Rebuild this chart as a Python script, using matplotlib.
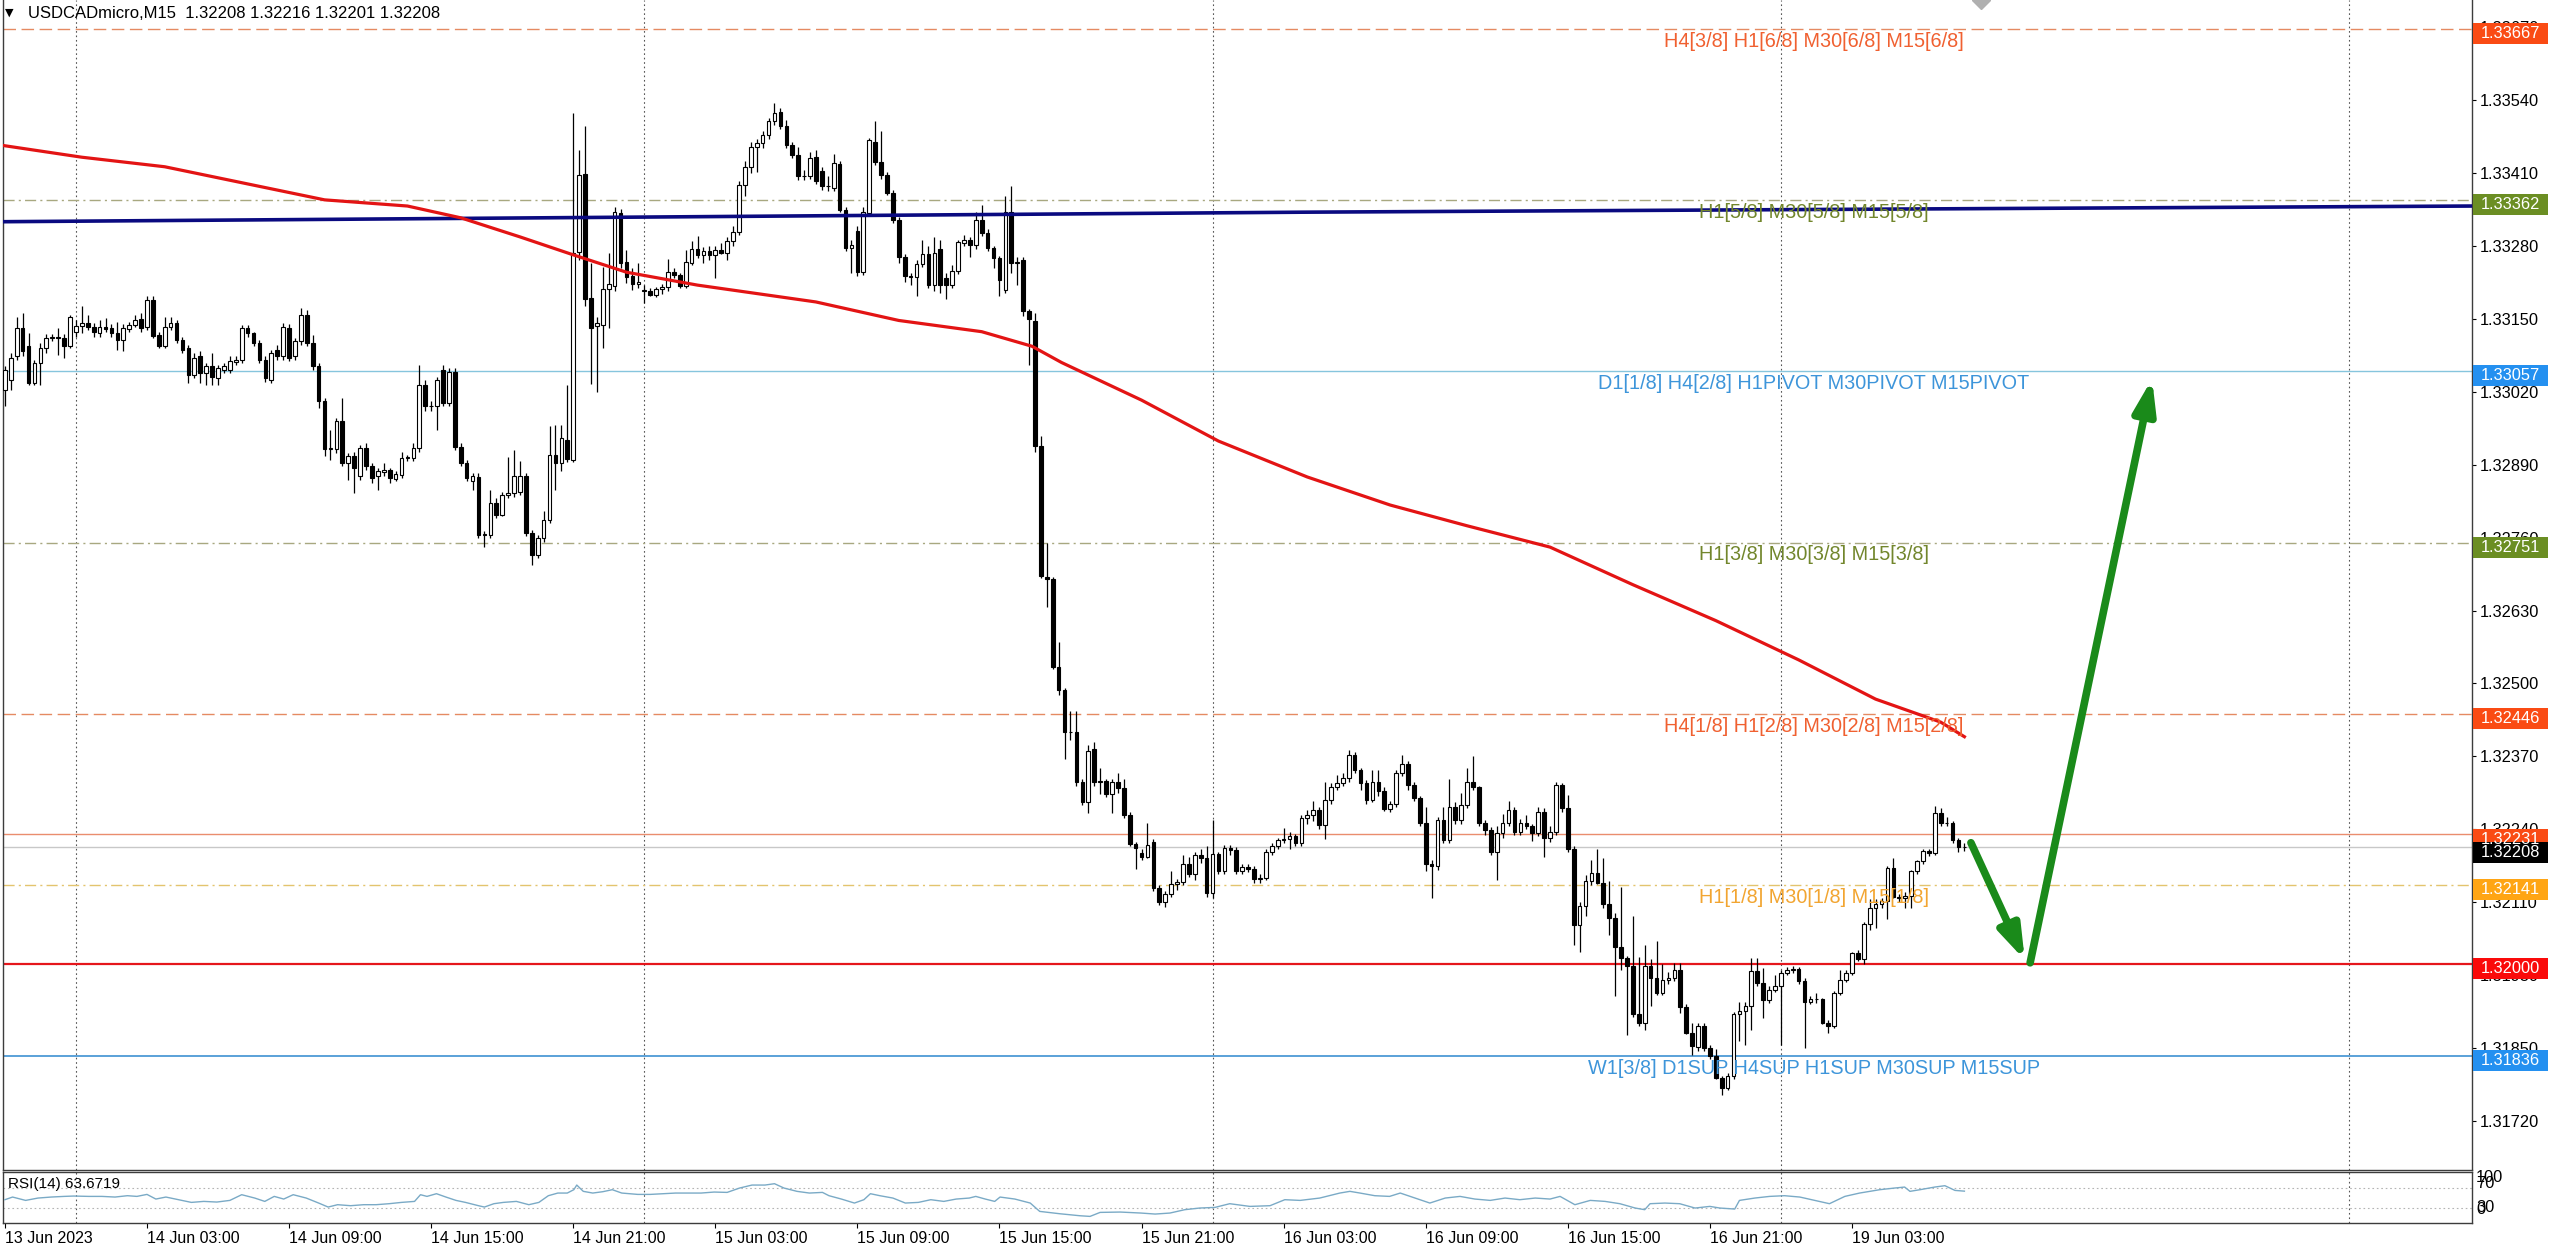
import numpy as np
import matplotlib
matplotlib.use("Agg")
import matplotlib.pyplot as plt
from matplotlib.patches import Rectangle, FancyArrowPatch
from matplotlib.transforms import blended_transform_factory

# USDCADmicro M15 candles, 13 Jun 2023 21:00 -> 19 Jun 2023 07:45
# prices in points (1 point = 0.00001)
opens = [
    133023, 133041, 133083, 133133, 133101, 133035, 133071, 133098, 133116, 133117, 133116, 133101,
    133127, 133137, 133142, 133136, 133124, 133135, 133134, 133124, 133113, 133132, 133139, 133149,
    133136, 133184, 133121, 133101, 133136, 133142, 133113, 133098, 133050, 133083, 133053, 133065,
    133044, 133059, 133059, 133073, 133077, 133133, 133124, 133107, 133077, 133041, 133095, 133083,
    133133, 133083, 133110, 133157, 133107, 133065, 133003, 132917, 132917, 132967, 132893, 132905,
    132869, 132919, 132887, 132869, 132876, 132881, 132864, 132872, 132902, 132902, 132919, 133032,
    132994, 132994, 133059, 133000, 133056, 132922, 132893, 132860, 132868, 132765, 132765, 132821,
    132801, 132836, 132839, 132842, 132869, 132768, 132729, 132759, 132792, 132908, 132893, 132934,
    132899, 133269, 133408, 133187, 133138, 133139, 133203, 133208, 133339, 133252, 133226, 133212,
    133200, 133200, 133193, 133203, 133207, 133234, 133228, 133208, 133250, 133274, 133264, 133270,
    133264, 133273, 133268, 133289, 133304, 133389, 133420, 133457, 133463, 133477, 133503, 133518,
    133493, 133460, 133442, 133404, 133405, 133438, 133413, 133386, 133383, 133426, 133344, 133276,
    133306, 133233, 133338, 133466, 133430, 133407, 133375, 133326, 133261, 133226, 133224, 133248,
    133266, 133211, 133275, 133222, 133211, 133236, 133285, 133291, 133282, 133326, 133303, 133276,
    133258, 133202, 133341, 133250, 133254, 133163, 133146, 132923, 132690, 132686, 132529, 132488,
    132413, 132414, 132324, 132289, 132383, 132324, 132326, 132303, 132325, 132313, 132265, 132214,
    132198, 132191, 132217, 132135, 132111, 132125, 132142, 132146, 132179, 132161, 132194, 132188,
    132126, 132196, 132165, 132206, 132203, 132165, 132172, 132170, 132151, 132154, 132200, 132210,
    132221, 132222, 132228, 132215, 132260, 132265, 132274, 132248, 132292, 132316, 132322, 132331,
    132373, 132346, 132322, 132292, 132325, 132309, 132277, 132285, 132340, 132356, 132319, 132295,
    132251, 132179, 132174, 132257, 132221, 132280, 132257, 132283, 132325, 132315, 132251, 132239,
    132200, 132233, 132251, 132274, 132236, 132251, 132245, 132233, 132271, 132224, 132236, 132319,
    132278, 132204, 132070, 132103, 132147, 132162, 132144, 132106, 132082, 132031, 132011, 131996,
    131910, 131895, 131996, 131975, 131948, 131972, 131975, 131990, 131924, 131877, 131852, 131890,
    131850, 131835, 131797, 131779, 131800, 131910, 131916, 131925, 131987, 131966, 131936, 131954,
    131960, 131984, 131989, 131991, 131969, 131933, 131938, 131937, 131895, 131890, 131948, 131972,
    131984, 132019, 132008, 132072, 132100, 132106, 132112, 132171, 132120, 132117, 132121, 132165,
    132183, 132201, 132198, 132269, 132251, 132251, 132221, 132208,
]
highs = [
    133065, 133089, 133154, 133160, 133124, 133077, 133107, 133122, 133122, 133133, 133122, 133157,
    133148, 133172, 133157, 133142, 133148, 133151, 133140, 133145, 133140, 133145, 133157, 133160,
    133190, 133190, 133127, 133154, 133153, 133148, 133118, 133104, 133089, 133092, 133071, 133089,
    133068, 133071, 133083, 133083, 133139, 133139, 133127, 133113, 133083, 133095, 133104, 133142,
    133140, 133116, 133169, 133166, 133121, 133071, 133009, 132952, 132973, 133009, 132910, 132913,
    132925, 132928, 132893, 132884, 132893, 132884, 132878, 132913, 132908, 132928, 133068, 133041,
    133003, 133047, 133068, 133062, 133062, 132928, 132899, 132875, 132875, 132771, 132845, 132830,
    132842, 132903, 132916, 132896, 132875, 132774, 132765, 132807, 132958, 132961, 132961, 133032,
    133516, 133451, 133494, 133249, 133154, 133243, 133267, 133350, 133345, 133273, 133240, 133249,
    133210, 133205, 133206, 133212, 133256, 133240, 133232, 133273, 133288, 133298, 133278, 133280,
    133280, 133285, 133295, 133315, 133395, 133432, 133465, 133470, 133485, 133508, 133534, 133525,
    133505, 133465, 133457, 133415, 133447, 133450, 133420, 133404, 133444, 133432, 133350, 133290,
    133315, 133350, 133473, 133502, 133484, 133412, 133380, 133332, 133266, 133232, 133255, 133290,
    133280, 133295, 133291, 133232, 133245, 133291, 133300, 133296, 133340, 133352, 133310, 133280,
    133262, 133368, 133387, 133261, 133260, 133168, 133160, 132941, 132751, 132690, 132574, 132492,
    132450, 132450, 132330, 132390, 132395, 132350, 132330, 132330, 132340, 132330, 132270, 132218,
    132205, 132252, 132222, 132140, 132130, 132165, 132152, 132194, 132190, 132200, 132205, 132210,
    132257, 132200, 132212, 132212, 132208, 132178, 132178, 132174, 132160, 132205, 132215, 132225,
    132242, 132235, 132232, 132265, 132275, 132290, 132280, 132325, 132322, 132337, 132340, 132382,
    132378, 132350, 132328, 132345, 132346, 132315, 132290, 132345, 132372, 132362, 132325, 132300,
    132280, 132185, 132262, 132280, 132330, 132288, 132305, 132350, 132370, 132318, 132256, 132244,
    132245, 132268, 132290, 132280, 132258, 132265, 132250, 132280, 132278, 132245, 132325, 132322,
    132302, 132210, 132110, 132159, 132186, 132204, 132189, 132147, 132090, 132138, 132015, 132085,
    132013, 132034, 132008, 132040, 131999, 131985, 132002, 132002, 131928, 131895, 131895, 131895,
    131855, 131848, 131800, 131805, 131915, 131933, 131933, 132010, 132010, 131993, 131960, 131981,
    131990, 131995, 131996, 131995, 131975, 131942, 131948, 131940, 131900, 131952, 131990, 131990,
    132022, 132025, 132075, 132115, 132115, 132118, 132175, 132188, 132124, 132128, 132168, 132186,
    132204, 132205, 132281, 132278, 132262, 132255, 132225, 132216,
]
lows = [
    132994, 133023, 133077, 133083, 133032, 133032, 133032, 133089, 133110, 133086, 133080, 133098,
    133118, 133124, 133130, 133118, 133118, 133127, 133118, 133095, 133092, 133127, 133136, 133127,
    133130, 133115, 133098, 133098, 133130, 133107, 133089, 133035, 133044, 133035, 133032, 133032,
    133032, 133053, 133053, 133068, 133071, 133118, 133101, 133071, 133038, 133035, 133077, 133077,
    133074, 133077, 133104, 133101, 133059, 132991, 132905, 132899, 132910, 132887, 132863, 132839,
    132863, 132881, 132857, 132845, 132869, 132857, 132860, 132866, 132896, 132896, 132913, 132985,
    132985, 132952, 132994, 132994, 132916, 132887, 132860, 132845, 132759, 132744, 132759, 132795,
    132798, 132830, 132833, 132836, 132762, 132712, 132723, 132753, 132786, 132845, 132878, 132895,
    132895, 133255, 133173, 133034, 133020, 133098, 133133, 133200, 133240, 133213, 133202, 133205,
    133178, 133190, 133188, 133195, 133200, 133222, 133205, 133205, 133245, 133258, 133250, 133255,
    133222, 133265, 133255, 133280, 133300, 133368, 133410, 133412, 133455, 133470, 133495, 133488,
    133455, 133436, 133398, 133398, 133400, 133390, 133380, 133377, 133378, 133340, 133270, 133231,
    133226, 133228, 133333, 133425, 133400, 133370, 133320, 133250, 133215, 133210, 133190, 133243,
    133205, 133200, 133196, 133185, 133205, 133230, 133280, 133260, 133275, 133298, 133270, 133240,
    133190, 133196, 133231, 133210, 133155, 133067, 132913, 132688, 132636, 132525, 132480, 132365,
    132399, 132318, 132283, 132269, 132318, 132303, 132298, 132269, 132305, 132260, 132210, 132169,
    132185, 132188, 132130, 132105, 132102, 132120, 132132, 132140, 132155, 132150, 132180, 132120,
    132118, 132160, 132160, 132195, 132160, 132160, 132163, 132145, 132145, 132150, 132195, 132205,
    132215, 132205, 132210, 132210, 132250, 132255, 132240, 132222, 132285, 132310, 132318, 132325,
    132340, 132310, 132285, 132288, 132300, 132272, 132270, 132280, 132335, 132310, 132290, 132245,
    132165, 132118, 132168, 132215, 132215, 132250, 132250, 132278, 132310, 132245, 132230, 132195,
    132150, 132225, 132245, 132230, 132230, 132240, 132220, 132228, 132190, 132218, 132230, 132270,
    132200, 132034, 132022, 132085, 132140, 132142, 132100, 132052, 131942, 131990, 131874, 131905,
    131890, 131883, 131925, 131945, 131945, 131965, 131970, 131913, 131875, 131838, 131845, 131845,
    131830, 131795, 131767, 131776, 131795, 131862, 131856, 131883, 131960, 131904, 131930, 131950,
    131856, 131980, 131984, 131965, 131850, 131928, 131930, 131893, 131877, 131885, 131944, 131968,
    131980, 132005, 132000, 132060, 132064, 132100, 132080, 132118, 132110, 132100, 132100, 132160,
    132178, 132192, 132195, 132245, 132245, 132215, 132200, 132201,
]
closes = [
    133059, 133080, 133133, 133092, 133035, 133071, 133098, 133116, 133117, 133116, 133101, 133154,
    133137, 133142, 133136, 133127, 133135, 133132, 133124, 133113, 133133, 133139, 133147, 133133,
    133184, 133120, 133101, 133136, 133142, 133113, 133095, 133050, 133080, 133053, 133065, 133047,
    133062, 133065, 133074, 133077, 133133, 133124, 133107, 133077, 133044, 133089, 133083, 133136,
    133080, 133110, 133157, 133107, 133065, 133003, 132917, 132919, 132967, 132893, 132905, 132884,
    132919, 132887, 132866, 132878, 132881, 132866, 132874, 132902, 132903, 132919, 133032, 132994,
    132995, 133041, 133000, 133056, 132922, 132893, 132866, 132869, 132765, 132767, 132821, 132801,
    132836, 132839, 132869, 132869, 132768, 132729, 132759, 132792, 132907, 132893, 132938, 132900,
    133267, 133407, 133185, 133134, 133142, 133203, 133212, 133340, 133250, 133225, 133212, 133215,
    133202, 133193, 133203, 133207, 133234, 133228, 133209, 133252, 133274, 133264, 133270, 133264,
    133273, 133268, 133289, 133304, 133389, 133420, 133457, 133463, 133477, 133503, 133516, 133493,
    133460, 133442, 133404, 133405, 133436, 133395, 133386, 133387, 133427, 133344, 133276, 133281,
    133234, 133340, 133468, 133430, 133407, 133375, 133326, 133261, 133226, 133225, 133248, 133266,
    133211, 133267, 133211, 133211, 133236, 133287, 133291, 133281, 133326, 133303, 133276, 133258,
    133220, 133341, 133249, 133251, 133163, 133150, 132923, 132692, 132686, 132529, 132488, 132413,
    132414, 132324, 132289, 132380, 132324, 132326, 132303, 132325, 132313, 132265, 132214, 132207,
    132191, 132212, 132135, 132111, 132125, 132142, 132146, 132179, 132161, 132194, 132188, 132126,
    132196, 132165, 132206, 132203, 132165, 132172, 132170, 132151, 132154, 132200, 132210, 132221,
    132222, 132228, 132215, 132260, 132265, 132274, 132248, 132292, 132316, 132322, 132331, 132373,
    132346, 132322, 132292, 132325, 132309, 132277, 132285, 132340, 132356, 132319, 132295, 132251,
    132179, 132174, 132257, 132221, 132280, 132257, 132283, 132325, 132315, 132251, 132239, 132200,
    132233, 132251, 132274, 132236, 132251, 132245, 132233, 132271, 132224, 132236, 132319, 132278,
    132204, 132070, 132103, 132147, 132162, 132144, 132106, 132082, 132031, 132011, 131996, 131910,
    131895, 131996, 131975, 131948, 131972, 131975, 131990, 131924, 131877, 131853, 131890, 131850,
    131835, 131797, 131779, 131800, 131910, 131916, 131925, 131987, 131966, 131936, 131954, 131960,
    131984, 131989, 131991, 131969, 131933, 131938, 131937, 131895, 131890, 131948, 131972, 131984,
    132019, 132008, 132072, 132100, 132106, 132112, 132171, 132120, 132117, 132121, 132165, 132183,
    132201, 132198, 132269, 132251, 132251, 132221, 132208, 132208,
]

# red moving average at a few bars
ma_bar = [-1, 13, 27, 54, 68, 77, 87, 96, 105, 117, 137, 151, 165, 173.5, 178.5, 192, 205,
          220, 234, 247, 261, 275, 289, 303, 316, 327, 331]
ma_pts = [133460, 133438, 133421, 133362, 133351, 133330, 133296, 133264, 133233, 133210,
          133180, 133147, 133127, 133101, 133072, 133005, 132932, 132868, 132818, 132781,
          132743, 132676, 132612, 132542, 132472, 132431, 132405]

# dark blue line
navy_bar = [-1, 117, 219, 417]
navy_pts = [133323, 133332, 133340, 133351]

# RSI(14)
rsi_bar = [0, 1.3, 3.5, 5.6, 7.8, 10, 11.6, 14.2, 16.4, 18.6,
           20.7, 22.3, 24, 25.5, 27.2, 29.3, 31.5, 33.6, 35.8, 38,
           40, 42.2, 43.9, 45.5, 47.1, 48.7, 50.9, 53, 54.6, 56.2,
           58.4, 60.6, 62.7, 64.9, 67, 69.2, 70.2, 71.3, 72.9, 74.5,
           76.2, 77.8, 80, 81, 82.6, 84.2, 86.4, 88.5, 90.2, 91.8,
           93.4, 95, 96.1, 96.6, 97.7, 99.3, 101, 102.6, 104.2, 106.9,
           109, 111.2, 113.3, 115.5, 117.6, 119.8, 122, 124.1, 126.2, 128.4,
           130, 131.6, 133.8, 135.9, 138.1, 139.2, 141.3, 143.5, 145.1, 146.2,
           147.8, 150, 152.1, 154.3, 156.4, 158.6, 160.7, 162.9, 164, 165.6,
           167.2, 168.1, 170.6, 173.2, 174.8, 178.2, 181.6, 183.3, 185, 188.4,
           191.9, 194.3, 196.8, 199.3, 201.8, 204.4, 206.9, 210.3, 213.7, 216.2,
           218.8, 222.1, 225.5, 227.2, 228.9, 231.4, 233.9, 235.7, 238.2, 240.7,
           243.3, 245.8, 248.3, 250.9, 253.4, 255.9, 258.5, 261, 262.7, 265.2,
           267.8, 270.3, 272.8, 275.4, 277, 277.9, 280.4, 282.9, 285.5, 288,
           289.7, 292.2, 293, 295.6, 298.1, 300.6, 303.2, 306.5, 308.2, 310.8,
           313.3, 316.7, 319.2, 320.9, 321.8, 323.5, 326, 327.7, 329.4, 331]
rsi_val = [46.6, 51.9, 45.2, 49.9, 51.9, 53.2, 53.9, 53.2, 53.2, 51.9,
           54.6, 53.2, 57.2, 47.9, 51.9, 46.6, 41.2, 43.2, 41.9, 45.2,
           56.6, 49.9, 43.2, 53.2, 47.9, 56.6, 49.9, 39.9, 31.9, 36.6,
           34.6, 36.6, 36.6, 38.6, 41.2, 43.2, 56.6, 53.2, 58.6, 51.9,
           45.2, 41.2, 34.6, 31.9, 38.6, 41.2, 43.2, 36.6, 41.2, 54.6,
           59.9, 59.9, 66.6, 75.9, 63.3, 59.9, 62.6, 66.6, 59.9, 57.2,
           57.2, 58.6, 59.9, 59.9, 59.9, 61.9, 61.2, 69.9, 75.9, 75.9,
           78.6, 69.9, 63.3, 59.9, 61.2, 54.6, 47.9, 39.9, 46.6, 58.6,
           54.6, 49.9, 39.9, 41.2, 46.6, 43.2, 47.9, 49.9, 53.2, 47.9,
           43.2, 51.9, 47.9, 39.9, 23.2, 18.5, 14.5, 13.2, 21.2, 21.9,
           19.9, 17.9, 19.9, 26.6, 29.9, 31.2, 38.6, 33.2, 34.6, 46.6,
           45.2, 49.9, 59.9, 63.3, 59.9, 54.6, 53.2, 59.9, 49.9, 39.9,
           49.9, 53.2, 47.9, 45.2, 49.9, 46.6, 49.9, 47.9, 53.2, 36.6,
           45.2, 43.2, 38.6, 29.9, 26.6, 38.6, 39.9, 38.6, 29.9, 33.2,
           29.9, 27.9, 45.2, 49.9, 53.2, 54.6, 51.9, 43.2, 38.6, 53.2,
           59.9, 66.6, 69.9, 71.9, 63.3, 66.6, 71.9, 74.6, 65.2, 63.7]

# horizontal levels
level_price = [1.33667, 1.33362, 1.33057, 1.32751, 1.32446, 1.32231, 1.32208, 1.32141, 1.32000, 1.31836]
level_text = ["H4[3/8] H1[6/8] M30[6/8] M15[6/8]", "H1[5/8] M30[5/8] M15[5/8]",
              "D1[1/8] H4[2/8] H1PIVOT M30PIVOT M15PIVOT", "H1[3/8] M30[3/8] M15[3/8]",
              "H4[1/8] H1[2/8] M30[2/8] M15[2/8]", "", "", "H1[1/8] M30[1/8] M15[1/8]", "",
              "W1[3/8] D1SUP H4SUP H1SUP M30SUP M15SUP"]

price_ticks = [1.33670, 1.33540, 1.33410, 1.33280, 1.33150, 1.33020, 1.32890, 1.32760,
               1.32630, 1.32500, 1.32370, 1.32240, 1.32110, 1.31980, 1.31850, 1.31720]
time_bar = [0, 24, 48, 72, 96, 120, 144, 168, 192, 216, 240, 264, 288, 312]
time_lbl = ["13 Jun 2023", "14 Jun 03:00", "14 Jun 09:00", "14 Jun 15:00", "14 Jun 21:00",
            "15 Jun 03:00", "15 Jun 09:00", "15 Jun 15:00", "15 Jun 21:00", "16 Jun 03:00",
            "16 Jun 09:00", "16 Jun 15:00", "16 Jun 21:00", "19 Jun 03:00"]
day_bar = [12, 108, 204, 300, 396]

# hand drawn arrows (bar, price)
arrow_bar = [332.1, 341.2, 342.1, 362.7]
arrow_price = [1.32216, 1.32007, 1.32002, 1.33043]

assert len(opens) == len(highs) == len(lows) == len(closes)
assert len(rsi_bar) == len(rsi_val)

# styles
line_col = ['#e58a62', '#a8a880', '#86c5dd', '#a8a880', '#e58a62', '#ea8d6e', '#c8c8c8', '#e3c46e', '#e5161c', '#4d9ad6']
line_ls = [(0, (9, 4)), (0, (8, 3, 1.5, 3)), '-', (0, (8, 3, 1.5, 3)), (0, (9, 4)), '-', '-', (0, (8, 3, 1.5, 3)), '-', '-']
line_lw = [1, 1, 1, 1, 1, 1, 1, 1, 1.6, 1.3]
text_col = ['#f06030', '#72862c', '#3d95da', '#72862c', '#f06030', None, None, '#f2a531', None, '#3d95da']
box_col = ['#fa4b14', '#6b8e23', '#2490f0', '#6b8e23', '#fa4b14', '#fa4b14', '#000000', '#ffa514', '#fa0a0a', '#2490f0']

plt.rcParams['font.family'] = ['Liberation Sans', 'DejaVu Sans']

W, H = 2560, 1249
PX = 1.7825e-5  # price per pixel
fig = plt.figure(figsize=(W / 100, H / 100), dpi=100)
L, R = 3 / W, 2472 / W
ax = fig.add_axes([L, 1 - 1170 / H, R - L, 1170 / H])
ax2 = fig.add_axes([L, 1 - 1223 / H, R - L, 51 / H])

o = np.array(opens) / 1e5
h = np.array(highs) / 1e5
l = np.array(lows) / 1e5
c = np.array(closes) / 1e5
x = np.arange(len(c))
up = c >= o

ax.set_xlim(-0.32, 416.74)
ax.set_ylim(1.3163267, 1.3371825)
ax2.set_xlim(-0.32, 416.74)
ax2.set_ylim(0, 102)

for b in day_bar:
    ax.axvline(b, color='#555555', lw=0.8, ls=(0, (1.5, 2.5)), zorder=1)
    ax2.axvline(b, color='#555555', lw=0.8, ls=(0, (1.5, 2.5)), zorder=1)

for p, col, ls, lw in zip(level_price, line_col, line_ls, line_lw):
    ax.axhline(p, color=col, ls=ls, lw=lw, zorder=1)

# candles
ax.vlines(x, l, h, color='black', lw=0.9, zorder=3)
ax.bar(x[up], (c - o)[up], bottom=o[up], width=0.62, facecolor='white',
       edgecolor='black', linewidth=0.8, zorder=4)
ax.bar(x[~up], (o - c)[~up], bottom=c[~up], width=0.62, facecolor='black',
       edgecolor='black', linewidth=0.8, zorder=4)

ax.plot(navy_bar, np.array(navy_pts) / 1e5, color='#0a0a80', lw=2.6, zorder=5)
ax.plot(ma_bar, np.array(ma_pts) / 1e5, color='#e31414', lw=2.3, zorder=5)

# level texts
for p, t, col in zip(level_price, level_text, text_col):
    if t:
        ax.annotate(t, xy=(305.6, p), xytext=(0, -2), textcoords='offset points',
                    ha='center', va='top', fontsize=14.3, color=col, zorder=6)

# arrows
for k in (0, 2):
    ax.add_patch(FancyArrowPatch((arrow_bar[k], arrow_price[k]), (arrow_bar[k + 1], arrow_price[k + 1]),
                                 arrowstyle='-|>,head_length=0.33,head_width=0.11', mutation_scale=60,
                                 lw=5.5, color='#1a8a1a', shrinkA=0, shrinkB=0, zorder=7))

# chart shift marker
ax.plot(333.8, 1.33718, marker='D', ms=9, color='#b0b0b0', zorder=6)

# price axis
ax.yaxis.tick_right()
ax.set_yticks(price_ticks)
ax.set_yticklabels(['%.5f' % v for v in price_ticks])
ax.tick_params(axis='y', length=2.9, width=0.8, pad=2.9, labelsize=11.8, colors='black')
ax.set_xticks([])
for s in ['left', 'right', 'bottom']:
    ax.spines[s].set_color('#3c3c3c')
    ax.spines[s].set_linewidth(1)
ax.spines['top'].set_visible(False)

tr = blended_transform_factory(fig.transFigure, ax.transData)
for p, bc in zip(level_price, box_col):
    ax.add_patch(Rectangle((2473 / W, p - 15.5 * PX), 75 / W, 21 * PX, transform=tr,
                           facecolor=bc, edgecolor='none', clip_on=False, zorder=8))
    ax.text(2510.5 / W, p - 5 * PX, '%.5f' % p, transform=tr, ha='center', va='center',
            fontsize=11.8, color='white', clip_on=False, zorder=9)

# RSI panel
ax2.plot(rsi_bar, rsi_val, color='#7aaac6', lw=1.0, zorder=3)
for v in (70, 30):
    ax2.axhline(v, color='#b4b4b4', lw=0.8, ls=(0, (1.5, 2.5)), zorder=1)
ax2.set_yticks([])
ax2.set_xticks(time_bar)
ax2.set_xticklabels(time_lbl, ha='left')
ax2.tick_params(axis='x', length=3.6, width=0.8, pad=2, labelsize=11.5, colors='black')
for s in ax2.spines.values():
    s.set_color('#3c3c3c')
    s.set_linewidth(1)
tr2 = blended_transform_factory(fig.transFigure, ax2.transData)
for t, v in zip(["100", "70", "30", "0"], [90, 78, 32, 26]):
    ax2.text(2476 / W, v, t, transform=tr2, ha='left', va='center', fontsize=11.8, clip_on=False)

fig.text(8 / W, 1 - 1184 / H, 'RSI(14) 63.6719', fontsize=11, va='center', ha='left')
fig.text(5 / W, 1 - 13 / H, '\u25bc', fontsize=8, va='center', ha='left', family='DejaVu Sans')
fig.text(28 / W, 1 - 13 / H, 'USDCADmicro,M15  1.32208 1.32216 1.32201 1.32208',
         fontsize=12, va='center', ha='left')

fig.savefig('out.png', dpi=100, facecolor='white')
